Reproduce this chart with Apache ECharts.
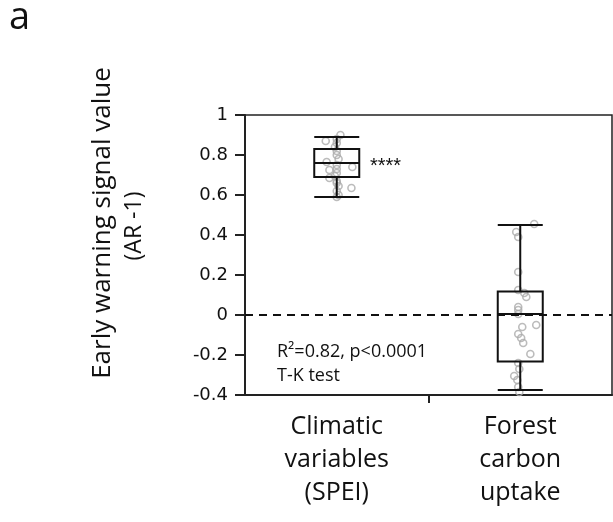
<!DOCTYPE html>
<html><head><meta charset="utf-8">
<script src="https://cdn.jsdelivr.net/npm/echarts@6/dist/echarts.min.js"></script>
<style>html,body{margin:0;padding:0;background:#fff}#c{width:613px;height:522px}</style>
</head><body><div id="c"></div>
<script>
var categories = ['Climatic\nvariables\n(SPEI)', 'Forest\ncarbon\nuptake'];
var yTicks = [-0.4, -0.2, 0, 0.2, 0.4, 0.6, 0.8, 1];
// box stats: [min, Q1, median, Q3, max]
var climateBox = [0.59, 0.69, 0.76, 0.83, 0.89];
var forestBox = [-0.375, -0.233, 0.005, 0.117, 0.45];
// individual points
var climateValues = [0.90, 0.87, 0.88, 0.86, 0.84, 0.82, 0.80, 0.78, 0.765, 0.75, 0.74, 0.73, 0.725, 0.71, 0.695, 0.685, 0.67, 0.66, 0.645, 0.635, 0.62, 0.60, 0.59];
var climateJitter = [0.02, -0.06, 0.0, 0.0, -0.01, 0.0, 0.0, 0.01, -0.055, 0.0, 0.085, 0.0, -0.04, 0.0, -0.01, -0.04, 0.0, 0.0, 0.01, 0.08, 0.0, 0.01, 0.0];
var forestValues = [0.455, 0.415, 0.39, 0.215, 0.125, 0.11, 0.09, 0.04, 0.025, 0.005, -0.05, -0.06, -0.095, -0.115, -0.14, -0.195, -0.24, -0.27, -0.305, -0.325, -0.36, -0.385];
var forestJitter = [0.076, -0.022, -0.011, -0.011, -0.011, 0.022, 0.033, -0.011, -0.011, -0.011, 0.087, 0.011, -0.011, 0.005, 0.016, 0.055, -0.011, -0.005, -0.033, -0.016, -0.011, -0.005];
var statText = ['R²=0.82, p<0.0001', 'T-K test'];
var sigText = '****';
var xDividerTicks = [0.5];

var pts = [];
climateValues.forEach(function (v, i) { pts.push([0 + climateJitter[i], v]); });
forestValues.forEach(function (v, i) { pts.push([1 + forestJitter[i], v]); });

var chart = echarts.init(document.getElementById('c'));
var labelFont = '"Open Sans", sans-serif';
chart.setOption({
  animation: false,
  grid: { left: 245, right: 1, top: 115, bottom: 127, show: true, borderColor: '#222', borderWidth: 1.5, backgroundColor: 'transparent' },
  xAxis: [{
    type: 'category', data: categories, boundaryGap: true, position: 'bottom',
    axisLine: { onZero: false, lineStyle: { color: '#222', width: 2 } },
    axisTick: { show: false },
    axisLabel: { color: '#111', fontSize: 25, fontFamily: labelFont, lineHeight: 33, margin: 15 },
    splitLine: { show: false }
  }, {
    type: 'value', min: -0.5, max: 1.5, position: 'bottom',
    axisLine: { show: false, onZero: false },
    axisTick: { show: true, customValues: xDividerTicks, length: 8, lineStyle: { color: '#222', width: 2 } },
    axisLabel: { show: false },
    splitLine: { show: false }
  }],
  yAxis: {
    type: 'value', min: -0.4, max: 1, interval: 0.2,
    axisLine: { show: true, onZero: false, lineStyle: { color: '#222', width: 2 } },
    axisTick: { show: true, length: 10, lineStyle: { color: '#222', width: 2 } },
    axisLabel: { color: '#111', fontSize: 18, fontFamily: '"DejaVu Sans", sans-serif', margin: 17,
      formatter: function (v) { var r = Math.round(v * 10) / 10; return yTicks.indexOf(r) >= 0 ? String(r) : ''; } },
    splitLine: { show: false }
  },
  series: [{
    type: 'scatter', xAxisIndex: 1, data: pts, symbol: 'circle', symbolSize: 7, z: 2,
    itemStyle: { color: 'rgba(255,255,255,0)', borderColor: '#ababab', borderWidth: 1.6 },
    markLine: { silent: true, symbol: 'none', label: { show: false },
      lineStyle: { color: '#111', width: 2, type: [8, 6] }, data: [{ yAxis: 0 }] }
  }, {
    type: 'boxplot', xAxisIndex: 0, data: [climateBox, forestBox], boxWidth: [45, 45], z: 3,
    itemStyle: { color: 'rgba(255,255,255,0)', borderColor: '#111', borderWidth: 2 }
  }],
  graphic: [
    { type: 'text', x: 9, y: 18, style: { text: 'a', fontSize: 38, fontFamily: labelFont, fill: '#111', verticalAlign: 'middle' } },
    { type: 'text', x: 103, y: 223, rotation: Math.PI / 2, style: { text: 'Early warning signal value', fontSize: 26, fontFamily: labelFont, fill: '#111', align: 'center', verticalAlign: 'middle' } },
    { type: 'text', x: 134, y: 226, rotation: Math.PI / 2, style: { text: '(AR -1)', fontSize: 23, fontFamily: labelFont, fill: '#111', align: 'center', verticalAlign: 'middle' } },
    { type: 'text', x: 370, y: 166, style: { text: sigText, fontSize: 20, fontFamily: '"Liberation Sans", sans-serif', fill: '#111', verticalAlign: 'middle' } },
    { type: 'text', x: 277, y: 352, style: { text: statText[0], fontSize: 18, fontFamily: labelFont, fill: '#111', verticalAlign: 'middle' } },
    { type: 'text', x: 277, y: 376, style: { text: statText[1], fontSize: 18, fontFamily: labelFont, fill: '#111', verticalAlign: 'middle' } }
  ]
});
</script></body></html>
